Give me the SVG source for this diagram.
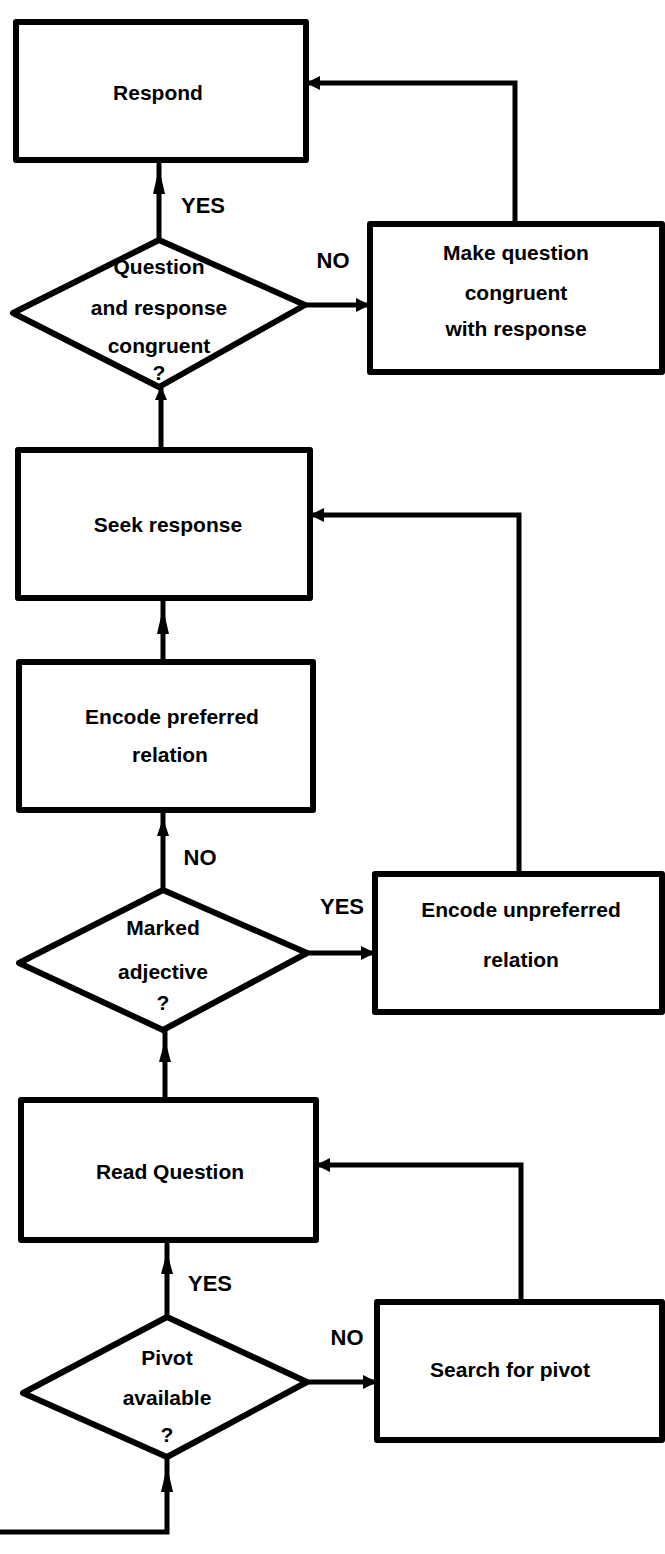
<svg xmlns="http://www.w3.org/2000/svg" width="665" height="1554" viewBox="0 0 665 1554">
<style>
.box{fill:#fff;stroke:#000;stroke-width:6;stroke-linejoin:round}
.dia{fill:#fff;stroke:#000;stroke-width:6;stroke-linejoin:round}
.ln{fill:none;stroke:#000;stroke-width:5;stroke-linejoin:miter}
.ah{fill:#000}
.t{font-family:"Liberation Sans",Arial,sans-serif;font-weight:bold;font-size:21px;fill:#000;text-anchor:middle}
.lb{font-family:"Liberation Sans",Arial,sans-serif;font-weight:bold;font-size:22px;fill:#000;text-anchor:middle}
</style>
<defs>
<marker id="arr" markerUnits="userSpaceOnUse" markerWidth="16" markerHeight="16" refX="14" refY="8" orient="auto">
<path d="M0,1 L14,8 L0,15 Z" fill="#000"/>
</marker>
</defs>
<g id="connectors">
<path class="ln" d="M0,1532 H167 V1457"/>
<path class="ln" d="M167,1317 V1240"/>
<path class="ln" d="M307,1382 H377" marker-end="url(#arr)"/>
<path class="ln" d="M521,1302 V1165 H316" marker-end="url(#arr)"/>
<path class="ln" d="M165,1100 V1030"/>
<path class="ln" d="M163,890 V810"/>
<path class="ln" d="M307,953 H375" marker-end="url(#arr)"/>
<path class="ln" d="M519,874 V515 H310" marker-end="url(#arr)"/>
<path class="ln" d="M163,662 V598"/>
<path class="ln" d="M161,450 V387"/>
<path class="ln" d="M305,305 H370" marker-end="url(#arr)"/>
<path class="ln" d="M515,224 V83 H306" marker-end="url(#arr)"/>
<path class="ln" d="M159,240 V160"/>
<polygon class="ah" points="167,1466 173,1492 161,1492"/>
<polygon class="ah" points="167,1252 173,1274 161,1274"/>
<polygon class="ah" points="165,1040 171,1062 159,1062"/>
<polygon class="ah" points="163,818 169,836 157,836"/>
<polygon class="ah" points="163,608 169,634 157,634"/>
<polygon class="ah" points="161,386 167,400 155,400"/>
<polygon class="ah" points="159,168 165,194 153,194"/>
</g>
<g id="respond">
<rect class="box" x="16" y="22" width="290" height="138"/>
<text class="t" x="158" y="100">Respond</text>
</g>
<g id="congruent">
<polygon class="dia" points="159,240 305,305 159,387 13,313"/>
<text class="t" x="159" y="274">Question</text>
<text class="t" x="159" y="315">and response</text>
<text class="t" x="159" y="353">congruent</text>
<text class="t" x="159" y="380">?</text>
</g>
<g id="make">
<rect class="box" x="370" y="224" width="292" height="148"/>
<text class="t" x="516" y="260">Make question</text>
<text class="t" x="516" y="300">congruent</text>
<text class="t" x="516" y="336">with response</text>
</g>
<g id="seek">
<rect class="box" x="18" y="450" width="292" height="148"/>
<text class="t" x="168" y="532">Seek response</text>
</g>
<g id="preferred">
<rect class="box" x="19" y="662" width="294" height="148"/>
<text class="t" x="172" y="724">Encode preferred</text>
<text class="t" x="170" y="762">relation</text>
</g>
<g id="marked">
<polygon class="dia" points="163,890 307,953 163,1030 19,963"/>
<text class="t" x="163" y="935">Marked</text>
<text class="t" x="163" y="979">adjective</text>
<text class="t" x="163" y="1010">?</text>
</g>
<g id="unpreferred">
<rect class="box" x="375" y="874" width="287" height="138"/>
<text class="t" x="521" y="917">Encode unpreferred</text>
<text class="t" x="521" y="967">relation</text>
</g>
<g id="read">
<rect class="box" x="21" y="1100" width="295" height="140"/>
<text class="t" x="170" y="1179">Read Question</text>
</g>
<g id="pivot">
<polygon class="dia" points="167,1317 307,1382 167,1457 23,1393"/>
<text class="t" x="167" y="1365">Pivot</text>
<text class="t" x="167" y="1405">available</text>
<text class="t" x="167" y="1442">?</text>
</g>
<g id="search">
<rect class="box" x="377" y="1302" width="285" height="138"/>
<text class="t" x="510" y="1377">Search for pivot</text>
</g>
<g id="labels">
<text class="lb" x="203" y="213">YES</text>
<text class="lb" x="333" y="268">NO</text>
<text class="lb" x="200" y="865">NO</text>
<text class="lb" x="342" y="914">YES</text>
<text class="lb" x="210" y="1291">YES</text>
<text class="lb" x="347" y="1345">NO</text>
</g>
</svg>
